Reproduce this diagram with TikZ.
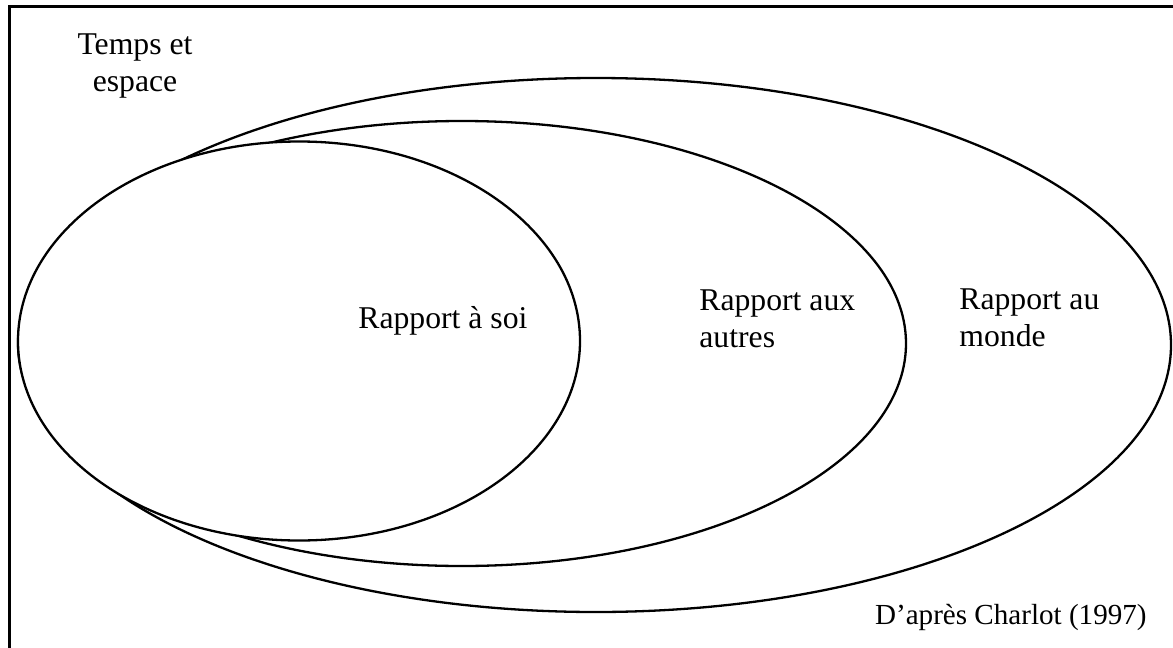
\documentclass[tikz,border=0pt]{standalone}
\usepackage{fontspec}
\setmainfont{Liberation Serif}
\begin{document}
\begin{tikzpicture}[x=0.5pt,y=-0.5pt,
  ring/.style={line width=1.15pt, fill=white},
  frameline/.style={line width=1.5pt},
  lbl/.style={inner sep=0pt, font=\fontsize{15.85}{18.5}\selectfont},
  credit/.style={inner sep=0pt, font=\fontsize{14.55}{17}\selectfont}]
\useasboundingbox (0,0) rectangle (1173,648);
\draw[frameline] (9,648) -- (9,6) -- (1173,6);
% ellipses (each inner one is filled white so that it hides the parts of the larger ones inside it)
\draw[ring] (596,345) ellipse [x radius=575, y radius=267];
\draw[ring] (462,343.5) ellipse [x radius=444, y radius=222.5];
\draw[ring] (299,341) ellipse [x radius=281, y radius=199.5];
% labels
\node[lbl, align=center, anchor=base] (temps) at (135,91) {Temps et\\espace};
\node[lbl, anchor=base west] (soi) at (358,328) {Rapport à soi};
\node[lbl, align=left, anchor=base west] (autres) at (699,347) {Rapport aux\\autres};
\node[lbl, align=left, anchor=base west] (monde) at (959,346) {Rapport au\\monde};
\node[credit, anchor=base east] (charlot) at (1147,624) {D’après Charlot (1997)};
\end{tikzpicture}
\end{document}
